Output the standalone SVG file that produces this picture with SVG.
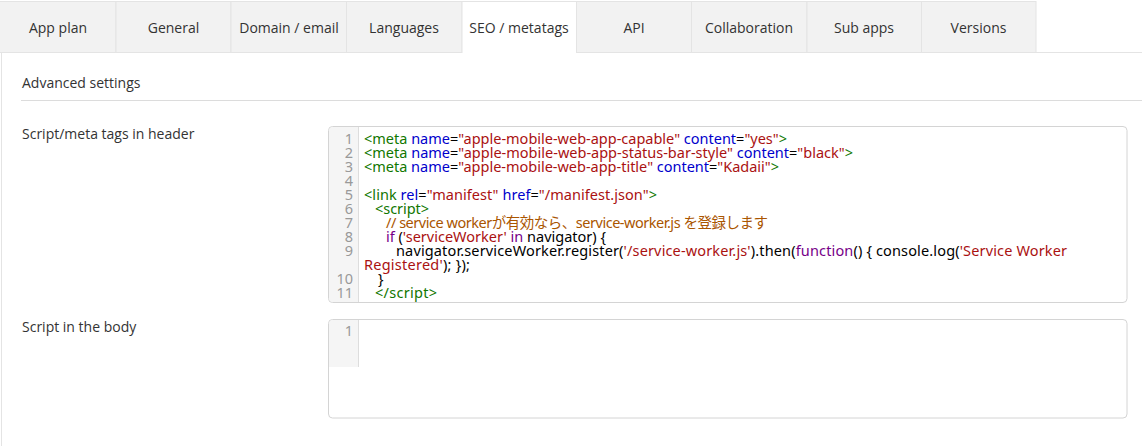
<svg xmlns="http://www.w3.org/2000/svg" width="1142" height="446" viewBox="0 0 1142 446">
<style>
.ui{font-family:"Open Sans","Noto Sans","Liberation Sans",sans-serif;font-size:14px;fill:#333}
.tab{fill:#f2f2f2;stroke:#e4e4e4;stroke-width:1}
.tabt{text-anchor:middle}
.ed{fill:#fff;stroke:#d4d4d4;stroke-width:1}
.gut{fill:#f5f5f5}
.gl{stroke:#dddddd;stroke-width:1}
.ln{font-family:"Noto Sans","Liberation Sans",sans-serif;font-size:14.5px;fill:#999;text-anchor:end}
.code{font-family:"Noto Sans","Noto Sans CJK JP","Liberation Sans",sans-serif;font-size:14.5px;fill:#000}
.tg{fill:#117700}.at{fill:#0000cc}.st{fill:#aa1111}.kw{fill:#770088}.cm{fill:#aa5500}
</style>
<rect width="1142" height="446" fill="#fff"/>
<g id="tabs">
  <g id="tab-app-plan"><rect class="tab" x="-0.5" y="1.5" width="116.5" height="51"/><text class="ui tabt" x="58" y="33">App plan</text></g>
  <g id="tab-general"><rect class="tab" x="116" y="1.5" width="115" height="51"/><text class="ui tabt" x="173.5" y="33">General</text></g>
  <g id="tab-domain"><rect class="tab" x="231" y="1.5" width="115.5" height="51"/><text class="ui tabt" x="289" y="33">Domain / email</text></g>
  <g id="tab-languages"><rect class="tab" x="346.5" y="1.5" width="115.5" height="51"/><text class="ui tabt" x="404" y="33">Languages</text></g>
  <g id="tab-seo"><rect x="462" y="1.5" width="114.5" height="52" fill="#fff"/><path d="M462 53V1.5H576.5V53" fill="none" stroke="#e4e4e4"/><text class="ui tabt" x="519" y="33">SEO / metatags</text></g>
  <g id="tab-api"><rect class="tab" x="576.5" y="1.5" width="115" height="51"/><text class="ui tabt" x="634" y="33">API</text></g>
  <g id="tab-collab"><rect class="tab" x="691.5" y="1.5" width="115.5" height="51"/><text class="ui tabt" x="749" y="33">Collaboration</text></g>
  <g id="tab-subapps"><rect class="tab" x="807" y="1.5" width="114.5" height="51"/><text class="ui tabt" x="864" y="33">Sub apps</text></g>
  <g id="tab-versions"><rect class="tab" x="921.5" y="1.5" width="114.5" height="51"/><text class="ui tabt" x="978.5" y="33">Versions</text></g>
</g>
<g id="panel">
  <line x1="1036" y1="52.5" x2="1142" y2="52.5" stroke="#e4e4e4"/>
  <line x1="1.5" y1="53" x2="1.5" y2="446" stroke="#e4e4e4"/>
  <text class="ui" x="22" y="88">Advanced settings</text>
  <line x1="21" y1="100.5" x2="1142" y2="100.5" stroke="#dcdcdc"/>
  <text class="ui" x="22" y="139">Script/meta tags in header</text>
  <text class="ui" x="22" y="332">Script in the body</text>
</g>
<g id="editor-header">
  <rect class="ed" x="328.5" y="126.5" width="798.5" height="176" rx="4"/>
  <path class="gut" d="M332.5 127H358V302H332.5A4 4 0 0 1 329 298V131A4 4 0 0 1 332.5 127Z"/>
  <line class="gl" x1="358.5" y1="127" x2="358.5" y2="302"/>
  <text class="ln" x="353" y="144">1</text>
  <text class="ln" x="353" y="158">2</text>
  <text class="ln" x="353" y="172">3</text>
  <text class="ln" x="353" y="186">4</text>
  <text class="ln" x="353" y="200">5</text>
  <text class="ln" x="353" y="214">6</text>
  <text class="ln" x="353" y="228">7</text>
  <text class="ln" x="353" y="242">8</text>
  <text class="ln" x="353" y="256">9</text>
  <text class="ln" x="353" y="284">10</text>
  <text class="ln" x="353" y="298">11</text>
  <text class="code" x="364" y="144" textLength="423"><tspan class="tg">&lt;meta</tspan> <tspan class="at">name</tspan>=<tspan class="st">"apple-mobile-web-app-capable"</tspan> <tspan class="at">content</tspan>=<tspan class="st">"yes"</tspan><tspan class="tg">&gt;</tspan></text>
  <text class="code" x="364" y="158" textLength="489"><tspan class="tg">&lt;meta</tspan> <tspan class="at">name</tspan>=<tspan class="st">"apple-mobile-web-app-status-bar-style"</tspan> <tspan class="at">content</tspan>=<tspan class="st">"black"</tspan><tspan class="tg">&gt;</tspan></text>
  <text class="code" x="364" y="172" textLength="415"><tspan class="tg">&lt;meta</tspan> <tspan class="at">name</tspan>=<tspan class="st">"apple-mobile-web-app-title"</tspan> <tspan class="at">content</tspan>=<tspan class="st">"Kadaii"</tspan><tspan class="tg">&gt;</tspan></text>
  <text class="code" x="364" y="200" textLength="293"><tspan class="tg">&lt;link</tspan> <tspan class="at">rel</tspan>=<tspan class="st">"manifest"</tspan> <tspan class="at">href</tspan>=<tspan class="st">"/manifest.json"</tspan><tspan class="tg">&gt;</tspan></text>
  <text class="code tg" x="375" y="214" textLength="54">&lt;script&gt;</text>
  <text class="code cm" x="386" y="228" textLength="382">// service workerが有効なら、service-worker.js を登録します</text>
  <text class="code" x="386" y="242" textLength="220"><tspan class="kw">if</tspan> (<tspan class="st">'serviceWorker'</tspan> <tspan class="kw">in</tspan> navigator) {</text>
  <text class="code" x="396" y="256" textLength="671">navigator.serviceWorker.register(<tspan class="st">'/service-worker.js'</tspan>).then(<tspan class="kw">function</tspan>() { console.log(<tspan class="st">'Service Worker</tspan></text>
  <text class="code" x="364" y="270" textLength="106"><tspan class="st">Registered'</tspan>); });</text>
  <text class="code" x="378" y="284">}</text>
  <text class="code tg" x="375" y="298" textLength="62">&lt;/script&gt;</text>
</g>
<g id="editor-body">
  <rect class="ed" x="328.5" y="319.5" width="798.5" height="98.5" rx="4"/>
  <path class="gut" d="M332.5 320H358V367H329V323.5A4 4 0 0 1 332.5 320Z"/>
  <line class="gl" x1="358.5" y1="320" x2="358.5" y2="367"/>
  <text class="ln" x="353" y="336">1</text>
</g>
</svg>
